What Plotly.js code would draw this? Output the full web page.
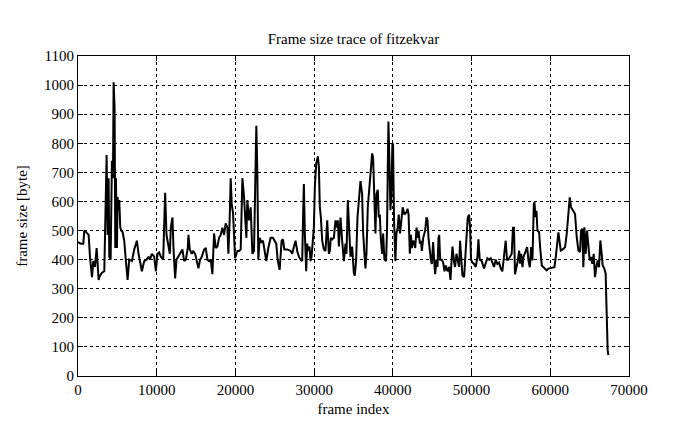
<!DOCTYPE html>
<html>
<head>
<meta charset="utf-8">
<script src="https://cdn.plot.ly/plotly-3.0.1.min.js"></script>
<style>html,body{margin:0;padding:0;background:#fff;}#chart{width:695px;height:429px;}</style>
</head>
<body>
<div id="chart"></div>
<script>
// frame index of each sample
var frameIndex = [
0,380,675,800,1015,1350,1520,1775,1945,2155,2370,2495,2620,2790,3045,3340,3465,3635,3760,3890,3975,4145,4310,4440,4525,4650,4735,4820,4945,5030,5155,5240,5370,5495,5665,5875,6085,6300,6510,6850,7145,7480,7695,7905,8115,8410,8705,8960,9130,9385,9680,9890,10100,10310,10525,10820,10945,11070,11245,11500,11665,11790,12000,12130,12340,12510,12765,13060,13270,13480,13695,13950,
14030,14200,14455,14625,14880,15090,15300,15510,15725,16020,16230,16440,16655,16865,17075,17285,17500,17710,17920,18130,18345,18555,18765,18980,19105,19275,19400,19530,19695,19825,19950,20250,20460,20670,20885,21095,21220,21390,21515,21730,21940,22150,22360,22485,22655,22780,22910,23075,23290,23500,23670,23925,24180,24470,24765,25020,25190,25360,25615,25870,26040,26210,26590,27010,27220,27430,27640,
27850,28060,28275,28485,28610,28695,28820,28990,29115,29245,29415,29540,29670,29840,29965,30090,30260,30475,30600,30725,30855,31025,31235,31445,31660,31870,31995,32125,32295,32505,32715,32885,33010,33140,33350,33560,33775,33985,34110,34280,34405,34615,34830,35040,35165,35335,35505,35675,35885,36095,36220,36390,36520,36645,36815,37025,37195,37365,37490,37620,37790,37915,38085,38210,38340,38465,38635,38760,38930,39140,39265,39350,39435,39560,39690,39815,39940,40025,40150,40320,40450,40615,40745,40915,41080,41250,41465,41720,
41865,41995,42160,42290,42415,42585,42710,42840,43010,43135,43265,43430,43560,43685,43855,44105,44275,44405,44530,44700,44825,44950,45120,45245,45370,45545,45670,45800,45885,46010,46220,46390,46560,46730,46940,47150,47320,47445,47575,47785,47910,48080,48205,48415,48540,48670,48840,49050,49175,49345,49515,49685,49810,49935,50110,50320,50530,50745,50870,51035,51290,51585,51800,52010,52220,52430,52645,52855,53065,53280,53490,53700,53910,54120,54335,54505,54670,54880,55095,55260,55390,55515,
55880,56045,56170,56300,56470,56595,56720,56890,57060,57230,57400,57570,57735,57905,57990,58115,58245,58370,58580,58710,58920,59130,59340,59555,59765,60190,60525,60695,60865,61030,61160,61330,61665,61880,62090,62300,62470,62640,62935,63145,63360,63570,63780,63910,64075,64200,64330,64500,64670,64840,65010,65175,65345,65515,65680,65850,66020,66190,66360,66530,66655,66865,67035,67120,67185,67290,67375
];
// frame size in bytes
var frameSize = [
460,455,455,500,495,485,410,340,395,375,440,400,330,345,355,360,590,760,485,680,410,400,740,680,1010,920,440,680,440,615,570,605,510,500,495,465,395,330,400,395,435,465,420,395,360,395,400,410,400,420,410,360,420,425,410,400,535,630,485,435,420,510,545,440,335,400,410,425,435,395,400,440,
485,435,420,430,420,395,370,400,410,435,440,400,395,400,350,490,440,445,475,485,510,485,525,510,420,545,680,590,560,485,405,430,430,435,680,615,535,475,605,535,580,420,430,570,860,705,400,475,460,465,435,395,440,475,475,465,455,400,365,465,470,435,435,430,420,445,465,
430,410,400,395,570,660,490,360,455,430,445,395,410,490,510,650,730,755,720,580,545,465,435,430,535,420,430,475,470,475,535,510,535,445,545,465,395,455,420,605,535,410,445,355,345,400,545,615,670,625,495,420,370,420,580,650,705,765,750,650,490,625,640,545,555,475,420,490,400,395,510,705,875,740,570,625,800,795,535,395,490,510,555,490,535,580,555,563,
575,555,420,485,440,465,460,440,510,475,500,455,465,430,475,500,545,535,475,420,400,385,460,400,350,400,375,475,485,400,400,390,360,380,360,375,330,390,445,390,375,420,400,375,465,400,345,340,400,485,545,555,510,400,390,385,375,410,470,400,395,370,390,405,400,405,390,375,400,385,390,370,360,420,465,400,400,410,420,510,510,350,
397,431,386,420,374,409,420,431,443,397,374,443,397,591,597,546,568,500,494,443,380,374,369,363,369,372,374,409,460,494,466,431,437,443,489,580,614,580,568,557,477,431,426,500,506,374,511,420,500,431,397,409,386,420,340,374,397,374,466,420,380,369,352,260,146,89,72
];
var xTicks = [0,10000,20000,30000,40000,50000,60000,70000];
var yTicks = [0,100,200,300,400,500,600,700,800,900,1000,1100];

var font = {family: '"Liberation Serif", "Times New Roman", serif', size: 15, color: '#000'};

var trace = {
  x: frameIndex, y: frameSize, type: 'scatter', mode: 'lines',
  line: {color: '#000', width: 2}, hoverinfo: 'skip'
};

var axisCommon = {
  showgrid: true, gridcolor: '#000', griddash: 'dot', gridwidth: 1,
  showline: true, linecolor: '#000', linewidth: 1, mirror: 'ticks',
  ticks: 'inside', ticklen: 5, tickcolor: '#000', zeroline: false,
  tickfont: font, automargin: false
};

var layout = {
  width: 695, height: 429,
  margin: {l: 78, r: 66, t: 56, b: 53},
  paper_bgcolor: '#fff', plot_bgcolor: '#fff',
  font: font, showlegend: false,
  title: {text: 'Frame size trace of fitzekvar', font: font, x: 0.5, xref: 'paper', y: 0.91, yref: 'container', yanchor: 'middle'},
  xaxis: Object.assign({}, axisCommon, {
    range: [0, 70000], tickmode: 'array', tickvals: xTicks, ticktext: xTicks.map(String),
    title: {text: 'frame index', font: font, standoff: 6}
  }),
  yaxis: Object.assign({}, axisCommon, {
    range: [0, 1100], tickmode: 'array', tickvals: yTicks, ticktext: yTicks.map(String),
    title: {text: 'frame size [byte]', font: font, standoff: 12}
  })
};

Plotly.newPlot('chart', [trace], layout, {staticPlot: true, displayModeBar: false});
</script>
</body>
</html>
